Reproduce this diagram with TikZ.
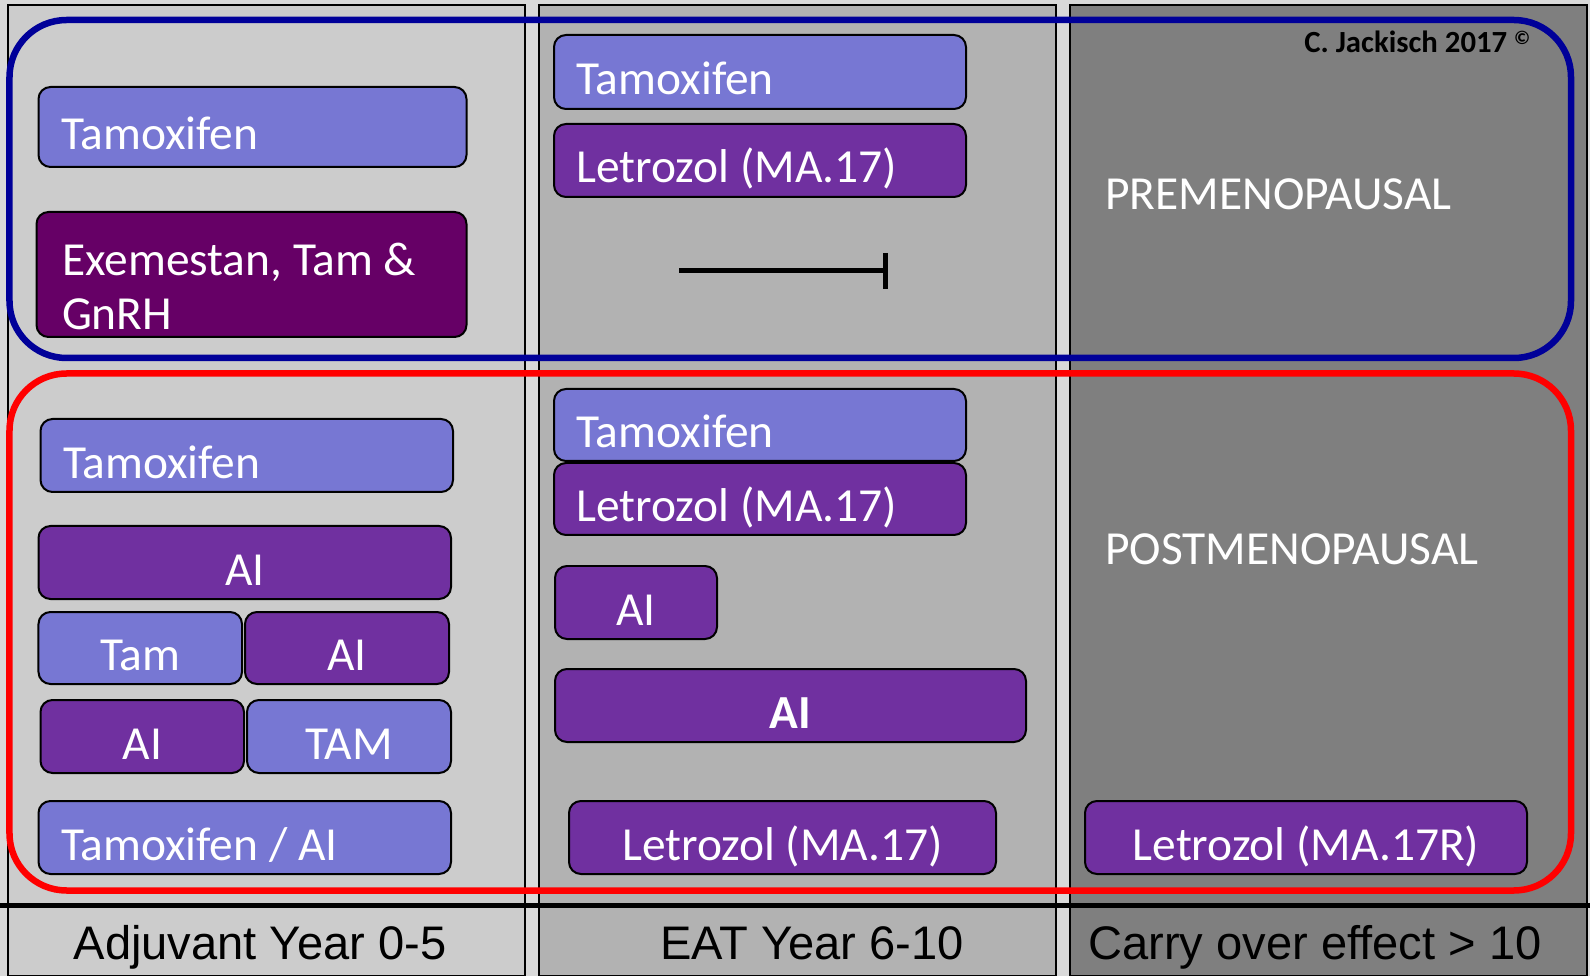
\documentclass[tikz,border=0pt]{standalone}
\usepackage{fontspec}
\setmainfont{Carlito}
\newfontfamily\arialfont{Liberation Sans}
\usepackage{tikz}
\usetikzlibrary{positioning,arrows.meta}
\usepackage{xcolor}
\definecolor{tamblue}{HTML}{7777D3}
\definecolor{aipurple}{HTML}{7030A0}
\definecolor{exeplum}{HTML}{660066}
\definecolor{prenavy}{HTML}{000099}
\definecolor{gapgray}{HTML}{D9D9D9}
\definecolor{adjgray}{HTML}{CCCCCC}
\definecolor{eatgray}{HTML}{B2B2B2}
\definecolor{carrygray}{HTML}{7F7F7F}
\newcommand{\drugFont}{\fontsize{27}{30.7}\selectfont}

\begin{document}
\begin{tikzpicture}[
    colBox/.style={rectangle, draw=black, line width=0.03cm, inner sep=0pt, minimum width=10.34cm, minimum height=19.42cm},
    groupBox/.style={rectangle, rounded corners=1.14cm, line width=0.13cm, inner sep=0pt, minimum width=31.23cm},
    pill/.style={rectangle, rounded corners=0.24cm, draw=black, line width=0.04cm, text=white, font=\drugFont, inner xsep=0.45cm, inner ysep=0pt, text height=0.99cm, text depth=0.09cm, minimum height=1.46cm},
    tamBox/.style={pill, fill=tamblue},
    aiBox/.style={pill, fill=aipurple},
    exeBox/.style={pill, fill=exeplum},
    leftText/.style={text width=#1, align=flush left},
    phaseFont/.style={text=white, font=\drugFont, inner sep=0pt},
    yearFont/.style={font=\arialfont\fontsize{26.8}{30}\selectfont, inner sep=0pt},
    stopLine/.style={line width=0.1cm, -{Bar[width=0.72cm, line width=0.1cm]}}
]
    \useasboundingbox (0,0) rectangle (31.8,-19.52);
    \fill[gapgray] (0,0) rectangle (31.8,-19.52);

    % Spalten
    \node[colBox, fill=adjgray] (colAdj) at (5.33,-9.81) {};
    \node[colBox, fill=eatgray] (colEat) at (15.95,-9.81) {};
    \node[colBox, fill=carrygray] (colCarry) at (26.57,-9.81) {};

    % Gruppen
    \node[groupBox, draw=prenavy, minimum height=6.76cm] (preGroup) at (15.805,-3.78) {};
    \node[groupBox, draw=red, minimum height=10.34cm] (postGroup) at (15.805,-12.64) {};

    \coordinate (axisL) at (0,-18.1);
    \coordinate (axisR) at (31.8,-18.1);
    \draw[line width=0.1cm] (axisL) -- (axisR);

    % Adjuvant Year 0-5
    \node[tamBox, leftText=7.66cm, minimum height=1.6cm] (preTam) at (5.05,-2.54) {Tamoxifen};
    \node[exeBox, leftText=7.58cm, inner xsep=0.51cm, minimum height=2.5cm, text height=0.8cm, text depth=0.76cm] (preExe) at (5.03,-5.49) {Exemestan, Tam \&\\GnRH};

    \node[tamBox, leftText=7.35cm] (postTam) at (4.935,-9.11) {Tamoxifen};
    \node[aiBox, minimum width=8.25cm] (postAI) at (4.895,-11.25) {AI};
    \node[tamBox, minimum width=4.07cm, minimum height=1.44cm] (seqTam) at (2.805,-12.96) {Tam};
    \node[aiBox, minimum width=4.08cm, minimum height=1.44cm] (seqAI) at (6.94,-12.96) {AI};
    \node[aiBox, minimum width=4.07cm] (swAI) at (2.845,-14.73) {AI};
    \node[tamBox, minimum width=4.08cm] (swTam) at (6.98,-14.73) {TAM};
    \node[tamBox, leftText=7.35cm] (postTamAI) at (4.895,-16.75) {Tamoxifen / AI};

    % EAT Year 6-10
    \node[tamBox, leftText=7.34cm, minimum height=1.48cm] (extTam) at (15.2,-1.44) {Tamoxifen};
    \node[aiBox, leftText=7.34cm] (extLet) at (15.2,-3.21) {Letrozol (MA.17)};
    \coordinate (stopFrom) at (13.58,-5.42);
    \coordinate (stopTo) at (17.76,-5.42);
    \draw[stopLine] (stopFrom) -- (stopTo);

    \node[tamBox, leftText=7.34cm, minimum height=1.44cm] (postExtTam) at (15.2,-8.5) {Tamoxifen};
    \node[aiBox, leftText=7.34cm, minimum height=1.44cm] (postExtLet) at (15.2,-9.98) {Letrozol (MA.17)};
    \node[aiBox, minimum width=3.24cm] (postExtAI) at (12.72,-12.05) {AI};
    \node[aiBox, minimum width=9.42cm, font=\drugFont\bfseries] (postLongAI) at (15.81,-14.11) {AI};
    \node[aiBox, minimum width=8.54cm] (postLateLet) at (15.65,-16.75) {Letrozol (MA.17)};

    % Carry over effect > 10
    \node[anchor=base west, inner sep=0pt, font=\bfseries\fontsize{17.5}{19}\selectfont] (credit) at (26.08,-1.06) {C. Jackisch 2017 \raisebox{0.16cm}{\fontsize{11}{11}\selectfont ©}};
    \node[phaseFont, anchor=base west] (preLabel) at (22.1,-4.2) {PREMENOPAUSAL};
    \node[phaseFont, anchor=base west] (postLabel) at (22.1,-11.28) {POSTMENOPAUSAL};
    \node[aiBox, minimum width=8.84cm] (lateLetR) at (26.12,-16.75) {Letrozol (MA.17R)};

    % Zeitachse
    \node[yearFont, anchor=base] (yearAdj) at (5.2,-19.18) {Adjuvant Year 0-5};
    \node[yearFont, anchor=base] (yearEat) at (16.24,-19.18) {EAT Year 6-10};
    \node[yearFont, anchor=base] (yearCarry) at (26.3,-19.18) {Carry over effect > 10};
\end{tikzpicture}
\end{document}
